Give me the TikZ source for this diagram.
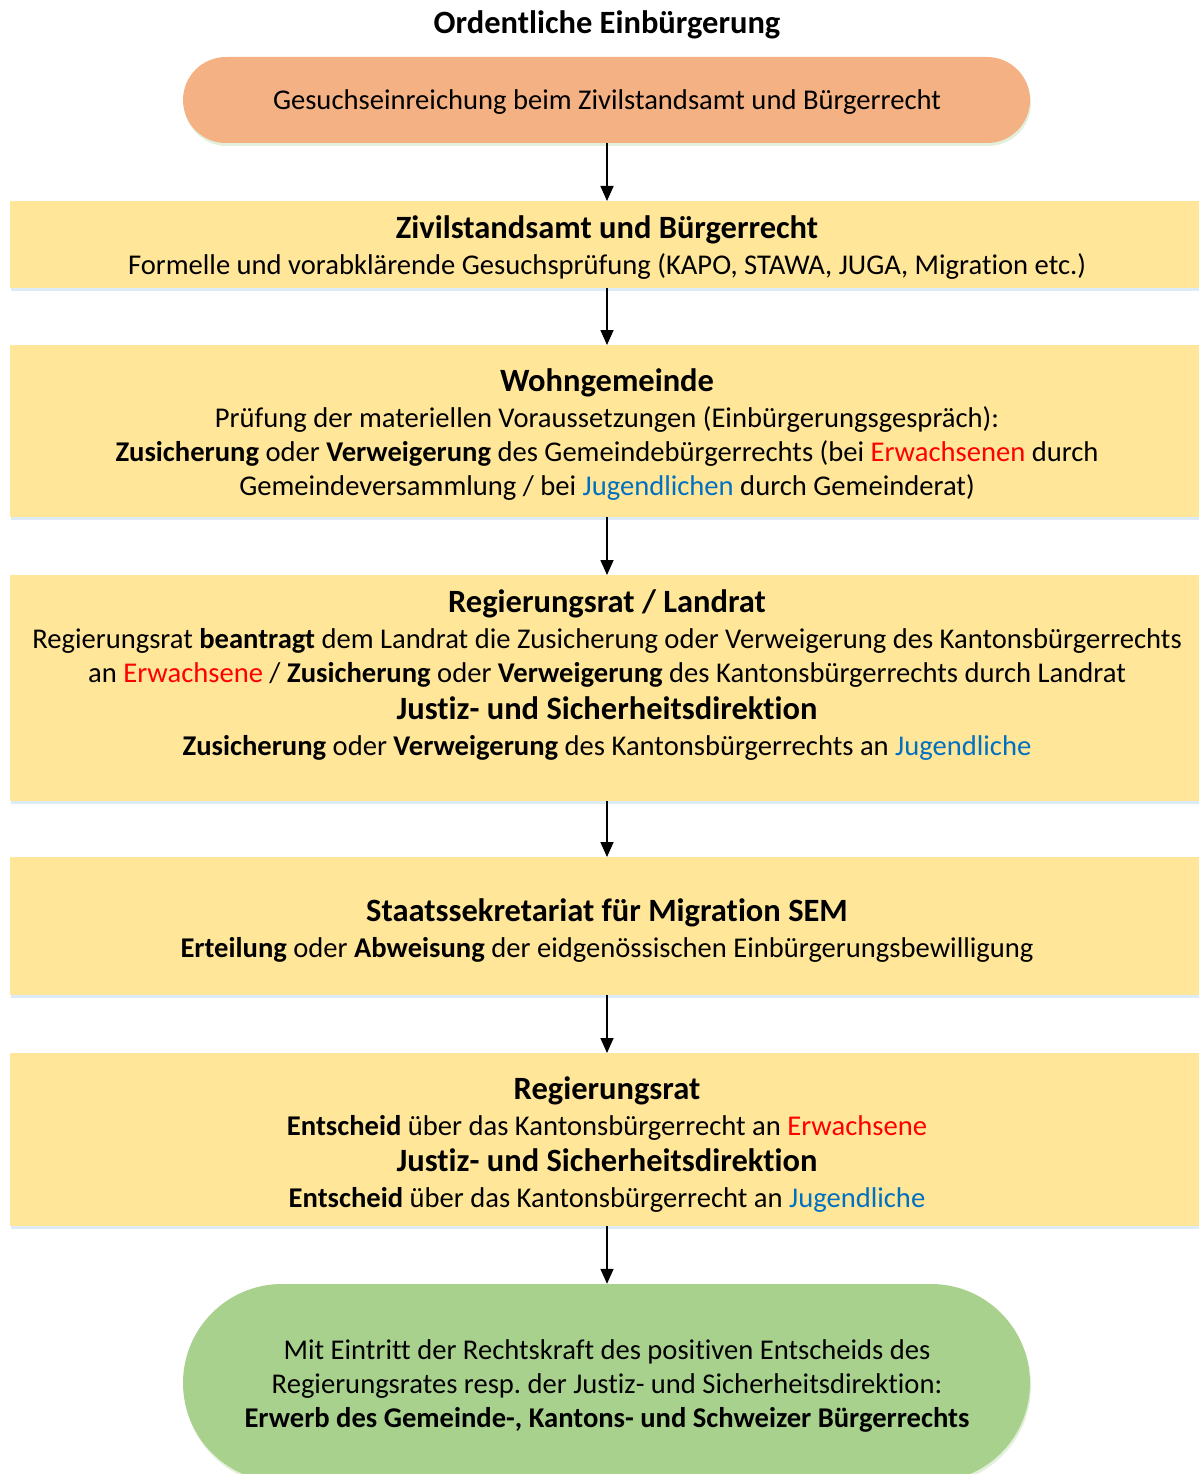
\documentclass[tikz,border=0pt]{standalone}
\usepackage{fontspec}
\setmainfont[Ligatures=NoCommon]{Carlito}
\usetikzlibrary{arrows.meta,shadows}
\frenchspacing
\definecolor{pillorange}{HTML}{F4B183}
\definecolor{boxyellow}{HTML}{FFE699}
\definecolor{pillgreen}{HTML}{A9D18E}
\definecolor{txtred}{HTML}{FF0000}
\definecolor{txtblue}{HTML}{0070C0}
\definecolor{shadowblue}{HTML}{DDEBF7}
\definecolor{shadowgreen}{HTML}{E2EFDA}
\newcommand{\hd}[1]{{\fontsize{32.5}{34}\selectfont\bfseries #1}}
\newcommand{\rd}[1]{\textcolor{txtred}{#1}}
\newcommand{\bl}[1]{\textcolor{txtblue}{#1}}
\begin{document}
\begin{tikzpicture}[x=1pt,y=-1pt,
  stagebox/.style={rectangle, fill=boxyellow, draw=none, inner sep=0pt,
    minimum width=1189pt, anchor=north west,
    drop shadow={shadow xshift=1pt, shadow yshift=-3pt, fill=shadowblue, opacity=1}},
  pill/.style={rectangle, draw=none, inner sep=0pt, minimum width=847pt,
    drop shadow={shadow xshift=1pt, shadow yshift=-3pt, fill=shadowgreen, opacity=1}},
  bodytext/.style={align=center, font=\fontsize{28.6}{34}\selectfont\frenchspacing, inner sep=0pt},
  flow/.style={line width=1.6pt, -{Triangle[length=15pt,width=13pt]}}
]
\useasboundingbox (0,0) rectangle (1199,1474);
\clip (0,0) rectangle (1199,1474);

\node[font=\fontsize{32.5}{34}\selectfont\bfseries, inner sep=0pt] (title) at (607,25) {Ordentliche Einbürgerung};

\node[pill, fill=pillorange, minimum height=86pt, rounded corners=43pt] (start) at (606.5,100) {};
\node[bodytext] (tstart) at (607,102) {Gesuchseinreichung beim Zivilstandsamt und Bürgerrecht};

\node[stagebox, minimum height=87pt] (b1) at (10,201) {};
\node[stagebox, minimum height=172pt] (b2) at (10,345) {};
\node[stagebox, minimum height=226pt] (b3) at (10,575) {};
\node[stagebox, minimum height=138pt] (b4) at (10,857) {};
\node[stagebox, minimum height=173pt] (b5) at (10,1053) {};

\node[pill, fill=pillgreen, minimum height=198pt, rounded corners=99pt] (end) at (606.5,1383) {};

\node[bodytext] (t1) at (607,248) {\hd{Zivilstandsamt und Bürgerrecht}\\[2pt]
Formelle und vorabklärende Gesuchsprüfung (KAPO, STAWA, JUGA, Migration etc.)};

\node[bodytext] (t2) at (607,435) {\hd{Wohngemeinde}\\[2pt]
Prüfung der materiellen Voraussetzungen (Einbürgerungsgespräch):\\
\textbf{Zusicherung} oder \textbf{Verweigerung} des Gemeindebürgerrechts (bei \rd{Erwachsenen} durch\\
Gemeindeversammlung / bei \bl{Jugendlichen} durch Gemeinderat)};

\node[bodytext] (t3) at (607,675) {\hd{Regierungsrat / Landrat}\\[2pt]
Regierungsrat \textbf{beantragt} dem Landrat die Zusicherung oder Verweigerung des Kantonsbürgerrechts\\
an \rd{Erwachsene} / \textbf{Zusicherung} oder \textbf{Verweigerung} des Kantonsbürgerrechts durch Landrat\\[3pt]
\hd{Justiz- und Sicherheitsdirektion}\\[2pt]
\textbf{Zusicherung} oder \textbf{Verweigerung} des Kantonsbürgerrechts an \bl{Jugendliche}};

\node[bodytext] (t4) at (607,931) {\hd{Staatssekretariat für Migration SEM}\\[2pt]
\textbf{Erteilung} oder \textbf{Abweisung} der eidgenössischen Einbürgerungsbewilligung};

\node[bodytext] (t5) at (607,1145) {\hd{Regierungsrat}\\[2pt]
\textbf{Entscheid} über das Kantonsbürgerrecht an \rd{Erwachsene}\\[2pt]
\hd{Justiz- und Sicherheitsdirektion}\\[2pt]
\textbf{Entscheid} über das Kantonsbürgerrecht an \bl{Jugendliche}};

\node[bodytext] (tend) at (607,1386) {Mit Eintritt der Rechtskraft des positiven Entscheids des\\
Regierungsrates resp. der Justiz- und Sicherheitsdirektion:\\
\textbf{Erwerb des Gemeinde-, Kantons- und Schweizer Bürgerrechts}};

\draw[flow] (start.south -| 607,0) -- (b1.north -| 607,0);
\draw[flow] (b1.south -| 607,0) -- (b2.north -| 607,0);
\draw[flow] (b2.south -| 607,0) -- (b3.north -| 607,0);
\draw[flow] (b3.south -| 607,0) -- (b4.north -| 607,0);
\draw[flow] (b4.south -| 607,0) -- (b5.north -| 607,0);
\draw[flow] (b5.south -| 607,0) -- (end.north -| 607,0);
\end{tikzpicture}
\end{document}
